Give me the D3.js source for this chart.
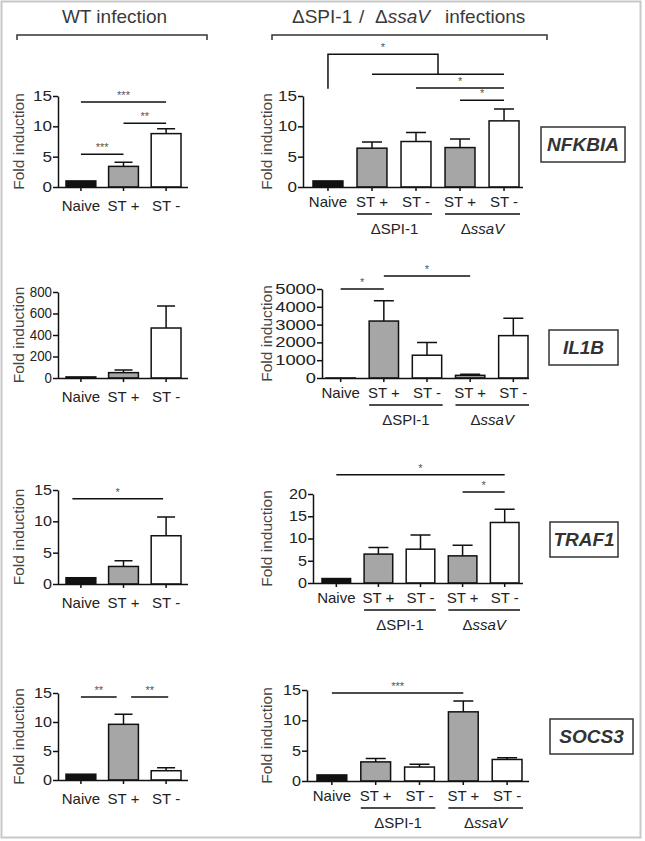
<!DOCTYPE html>
<html><head><meta charset="utf-8">
<script src="https://cdn.jsdelivr.net/npm/d3@7"></script>
<style>
body{margin:0;background:#fff}
svg{display:block}
text{font-family:"Liberation Sans",Arial,Helvetica,sans-serif}
</style>
</head><body>
<svg id="c" width="645" height="841"></svg>
<script>
// ---------------- DATA ----------------
const genes = ["NFKBIA", "IL1B", "TRAF1", "SOCS3"];
const wtCategories = ["Naive", "ST +", "ST -"];
const wtKinds = ["naive", "plus", "minus"];
const mutCategories = ["Naive", "ST +", "ST -", "ST +", "ST -"];
const mutKinds = ["naive", "plus", "minus", "plus", "minus"];
const mutGroupPrefix = ["Δ", "Δ"];
const mutGroupNames = ["SPI-1", "ssaV"];
const mutGroupItalic = [false, true];
const mutGroupMembers = [[1, 2], [3, 4]];

// means (rows follow genes order)
const wtMeans = [[1, 3.4, 8.8], [10, 50, 465], [1, 2.8, 7.7], [1, 9.6, 1.6]];
const wtErrors = [[0, 0.7, 0.8], [0, 24, 205], [0, 0.9, 3.0], [0, 1.75, 0.5]];
const mutMeans = [[1, 6.4, 7.5, 6.5, 10.9], [1, 3200, 1280, 150, 2380], [1, 6.5, 7.6, 6.1, 13.6], [1, 3.15, 2.3, 11.4, 3.55]];
const mutErrors = [[0, 1.0, 1.5, 1.4, 1.95], [0, 1140, 720, 60, 970], [0, 1.45, 3.2, 2.4, 3.0], [0, 0.55, 0.45, 1.8, 0.3]];

const wtTicks = [[0, 5, 10, 15], [0, 200, 400, 600, 800], [0, 5, 10, 15], [0, 5, 10, 15]];
const mutTicks = [[0, 5, 10, 15], [0, 1000, 2000, 3000, 4000, 5000], [0, 5, 10, 15, 20], [0, 5, 10, 15]];

// significance lines: [fromIndex, toIndex, yValue, stars]
const wtSig = [
  [[0, 2, 14, "***"], [1, 2, 10.5, "**"], [0, 1, 5.4, "***"]],
  [],
  [[-0.2, 1.93, 13.6, "*"]],
  [[0, 0.84, 14.3, "**"], [1.18, 2.05, 14.3, "**"]]
];
const mutSig = [
  [[2, 4, 16.3, "*"], [3, 4, 14.3, "*"]],
  [[0, 1, 5000, "*"], [1, 3, 5730, "*"]],
  [[0, 4, 24.3, "*"], [3, 4, 20.45, "*"]],
  [[0, 3, 14.5, "***"]]
];
// bracket: [gene index, single index, [groupFrom, groupTo], yStart, yTop, yGroup, stars]
const mutBrackets = [[0, 0, [1, 4], 16.2, 21.9, 18.6, "*"]];

// ---------------- LAYOUT ----------------
const fills = {naive: "#111", plus: "#a6a6a6", minus: "#fff"};
const leftY = [[187, 96], [378, 292], [584, 490], [780, 693]];
const rightY = [[187, 96], [378, 289], [583, 494], [781, 690]];
const rightAxisX = [303, 322, 313, 307];
const rightBars = [[313, 519], [326, 528], [322, 519], [317, 522]];
const rightAxisEnd = [523, 529, 523, 529];
const leftCharW = [9.5, 7.4, 9, 9];
const rightCharW = [9.5, 10.2, 9, 9];
const geneBoxes = [[541, 127, 84, 35], [549, 330, 69, 35], [550, 522, 68, 35], [550, 719, 83, 35]];

const svg = d3.select("#c");
const INK = "#111";

svg.append("rect").attr("x", 1.5).attr("y", 1.5).attr("width", 639).attr("height", 836)
  .attr("fill", "none").attr("stroke", "#c8c8c8").attr("stroke-width", 2);

// headers
svg.append("text").attr("x", 114.5).attr("y", 23).attr("text-anchor", "middle")
  .attr("font-size", 19).attr("fill", "#3a3a3a").text("WT infection");
const h2 = svg.append("text").attr("y", 23).attr("font-size", 19).attr("fill", "#3a3a3a");
h2.append("tspan").attr("x", 292).text("ΔSPI-1");
h2.append("tspan").attr("x", 359).text("/");
h2.append("tspan").attr("x", 375).text("Δ");
h2.append("tspan").attr("font-style", "italic").text("ssaV");
h2.append("tspan").attr("x", 445).text("infections");

function bracket(x1, x2, yy) {
  svg.append("path").attr("d", `M${x1},${yy + 5}V${yy}H${x2}V${yy + 5}`)
    .attr("fill", "none").attr("stroke", "#333").attr("stroke-width", 1.5);
}
bracket(17, 207, 35);
bracket(272, 547, 35);

function panel(p) {
  const g = svg.append("g");
  const x = d3.scaleBand().domain(d3.range(p.cats.length)).range(p.barRange)
    .paddingInner(p.pad).paddingOuter(0);
  const y = d3.scaleLinear().domain([0, d3.max(p.ticks)]).range(p.yRange);
  const cx = i => x(0) + x.bandwidth() / 2 + i * x.step();

  // bars
  g.selectAll("rect.bar").data(p.means).join("rect").attr("class", "bar")
    .attr("x", (d, i) => x(i)).attr("width", x.bandwidth())
    .attr("y", d => y(d)).attr("height", d => y(0) - y(d))
    .attr("fill", (d, i) => fills[p.kinds[i]]).attr("stroke", INK).attr("stroke-width", 1.5);

  // error bars (upper)
  const eb = p.means.map((m, i) => ({m, e: p.errs[i], i})).filter(d => d.e > 0);
  g.selectAll("path.err").data(eb).join("path").attr("class", "err")
    .attr("d", d => `M${cx(d.i)},${y(d.m)}V${y(d.m + d.e)}M${cx(d.i) - p.capW / 2},${y(d.m + d.e)}H${cx(d.i) + p.capW / 2}`)
    .attr("fill", "none").attr("stroke", INK).attr("stroke-width", 1.5);

  // y axis
  const yg = g.append("g").attr("transform", `translate(${p.axisX},0)`)
    .call(d3.axisLeft(y).tickValues(p.ticks).tickFormat(d => String(d)).tickSize(5).tickSizeOuter(0).tickPadding(1))
    .attr("font-family", null).attr("font-size", null);
  yg.select(".domain").attr("stroke", INK).attr("stroke-width", 1.5);
  yg.selectAll(".tick line").attr("stroke", INK).attr("stroke-width", 1.5);
  yg.selectAll(".tick text").attr("font-size", 14).attr("fill", "#222")
    .attr("textLength", d => String(d).length * p.charW).attr("lengthAdjust", "spacingAndGlyphs");

  // x axis
  const xg = g.append("g").attr("transform", `translate(0,${y(0)})`)
    .call(d3.axisBottom(x).tickSize(4).tickSizeOuter(0).tickPadding(p.catPad).tickFormat(i => p.cats[i]))
    .attr("font-family", null).attr("font-size", null);
  xg.select(".domain").remove();
  xg.selectAll(".tick line").attr("stroke", INK).attr("stroke-width", 1.5);
  xg.selectAll(".tick text").attr("font-size", 15).attr("fill", "#222");
  g.append("line").attr("x1", p.axisX).attr("x2", p.axisEnd).attr("y1", y(0) + 0.5).attr("y2", y(0) + 0.5)
    .attr("stroke", INK).attr("stroke-width", 1.5);

  // y label
  g.append("text").attr("transform", `translate(${p.labelX},${(p.yRange[0] + p.yRange[1]) / 2}) rotate(-90)`)
    .attr("text-anchor", "middle").attr("dominant-baseline", "central")
    .attr("font-size", 15.5).attr("fill", "#444").text("Fold induction");

  // significance
  p.sig.forEach(s => {
    const x1 = cx(s[0]), x2 = cx(s[1]), yy = y(s[2]);
    g.append("line").attr("x1", x1).attr("x2", x2).attr("y1", yy).attr("y2", yy)
      .attr("stroke", INK).attr("stroke-width", 1.5);
    g.append("text").attr("x", (x1 + x2) / 2).attr("y", yy - 3).attr("text-anchor", "middle")
      .attr("font-size", 11).attr("fill", "#555").text(s[3]);
  });
  (p.brackets || []).forEach(b => {
    const xs = cx(b[1]), g1 = cx(b[2][0]), g2 = cx(b[2][1]), gm = (g1 + g2) / 2;
    g.append("path").attr("d", `M${xs},${y(b[3])}V${y(b[4])}H${gm}V${y(b[5])}M${g1},${y(b[5])}H${g2}`)
      .attr("fill", "none").attr("stroke", INK).attr("stroke-width", 1.5);
    g.append("text").attr("x", (xs + gm) / 2).attr("y", y(b[4]) - 3).attr("text-anchor", "middle")
      .attr("font-size", 11).attr("fill", "#555").text(b[6]);
  });

  // groups under x axis
  if (p.groups) {
    p.groups.forEach((gr, k) => {
      const x1 = x(gr.members[0]), x2 = x(gr.members[1]) + x.bandwidth() + 1;
      g.append("line").attr("x1", x1).attr("x2", x2).attr("y1", y(0) + 27).attr("y2", y(0) + 27)
        .attr("stroke", INK).attr("stroke-width", 1.5);
      const t = g.append("text").attr("x", (x1 + x2) / 2).attr("y", y(0) + 47)
        .attr("text-anchor", "middle").attr("font-size", 15).attr("fill", "#222");
      t.append("tspan").text(gr.prefix);
      t.append("tspan").attr("font-style", gr.italic ? "italic" : "normal").text(gr.name);
    });
  }
}

genes.forEach((gene, k) => {
  panel({
    cats: wtCategories, kinds: wtKinds, means: wtMeans[k], errs: wtErrors[k], ticks: wtTicks[k],
    sig: wtSig[k], axisX: 58, barRange: [66, 181], axisEnd: 188, pad: 0.3, yRange: leftY[k],
    labelX: 18, capW: 18, charW: leftCharW[k], catPad: 9
  });
  panel({
    cats: mutCategories, kinds: mutKinds, means: mutMeans[k], errs: mutErrors[k], ticks: mutTicks[k],
    sig: mutSig[k], brackets: mutBrackets.filter(b => b[0] === k),
    axisX: rightAxisX[k], barRange: rightBars[k], axisEnd: rightAxisEnd[k], pad: 0.32, yRange: rightY[k],
    labelX: 266, capW: 20, charW: rightCharW[k], catPad: 5.5,
    groups: mutGroupNames.map((n, j) => ({name: n, prefix: mutGroupPrefix[j], italic: mutGroupItalic[j], members: mutGroupMembers[j]}))
  });
  const b = geneBoxes[k];
  svg.append("rect").attr("x", b[0]).attr("y", b[1]).attr("width", b[2]).attr("height", b[3])
    .attr("fill", "#fff").attr("stroke", "#333").attr("stroke-width", 1.5);
  svg.append("text").attr("x", b[0] + b[2] / 2).attr("y", b[1] + b[3] / 2).attr("text-anchor", "middle")
    .attr("dominant-baseline", "central").attr("font-size", 19).attr("font-weight", "bold")
    .attr("font-style", "italic").attr("fill", "#333").text(gene);
});
</script>
</body></html>
